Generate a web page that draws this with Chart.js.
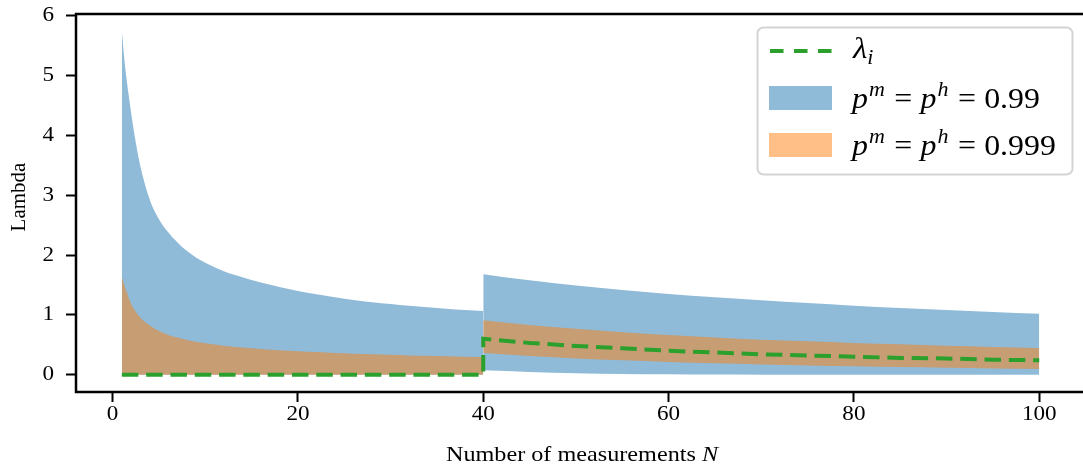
<!DOCTYPE html>
<html>
<head>
<meta charset="utf-8">
<script src="https://cdn.jsdelivr.net/npm/chart.js@4.4.0/dist/chart.umd.min.js"></script>
<style>
  html, body { margin: 0; padding: 0; background: #fff; overflow: hidden; }
  #wrap { width: 1090px; height: 468px; }
</style>
</head>
<body>
<div id="wrap"><canvas id="myChart" width="1090" height="468"></canvas></div>
<script>
// --- data ---
// first part, before the switch at N = 40 (lambda = 0)
var nSeg1 = [1, 1.25, 1.5, 2, 2.5, 3, 4, 5, 6, 7, 8, 9, 10, 12, 14, 16, 18, 20, 22, 24, 26, 28, 30, 32, 34, 36, 38, 40];
var blueUpperSeg1 = [5.75, 5.30, 4.95, 4.38, 3.88, 3.48, 2.93, 2.60, 2.38, 2.21, 2.07, 1.96, 1.87, 1.73, 1.63, 1.54, 1.465, 1.40, 1.345, 1.295, 1.25, 1.21, 1.18, 1.15, 1.125, 1.10, 1.08, 1.065];
var orangeUpperSeg1 = [1.64, 1.50, 1.39, 1.18, 1.05, 0.95, 0.82, 0.73, 0.665, 0.62, 0.58, 0.55, 0.525, 0.485, 0.455, 0.43, 0.41, 0.392, 0.377, 0.363, 0.351, 0.340, 0.331, 0.322, 0.314, 0.307, 0.301, 0.295];
var lowerSeg1 = [0, 0, 0, 0, 0, 0, 0, 0, 0, 0, 0, 0, 0, 0, 0, 0, 0, 0, 0, 0, 0, 0, 0, 0, 0, 0, 0, 0];

// second part, N = 40 .. 100
var nSeg2 = [40, 45, 50, 55, 60, 65, 70, 75, 80, 85, 90, 95, 100];
var blueUpperSeg2 = [1.68, 1.577, 1.49, 1.416, 1.35, 1.293, 1.242, 1.196, 1.154, 1.116, 1.081, 1.049, 1.02];
var blueLowerSeg2 = [0.072, 0.045, 0.025, 0.013, 0.006, 0.002, 0, 0, 0, 0, 0, 0, 0];
var orangeUpperSeg2 = [0.91, 0.83, 0.766, 0.71, 0.663, 0.622, 0.585, 0.558, 0.53, 0.507, 0.484, 0.464, 0.446];
var orangeLowerSeg2 = [0.36, 0.311, 0.271, 0.239, 0.212, 0.19, 0.17, 0.154, 0.139, 0.126, 0.114, 0.104, 0.095];

// lambda_i (dashed green)
var nLambda = [1, 40, 40, 45, 50, 55, 60, 65, 70, 75, 80, 85, 90, 95, 100];
var lambdaVals = [0, 0, 0.60, 0.53, 0.48, 0.44, 0.40, 0.37, 0.34, 0.32, 0.30, 0.28, 0.27, 0.25, 0.24];

var xTicks = [0, 20, 40, 60, 80, 100];
var yTicks = [0, 1, 2, 3, 4, 5, 6];

var blue = 'rgba(31,119,180,0.5)';
var orange = 'rgba(255,127,14,0.5)';
var green = '#2ca02c';
var serif = "'Liberation Serif', 'DejaVu Serif', serif";
var SX = 1.1; // text in the picture is a bit wider than tall

function pts(xs, ys) {
    var out = [];
    for (var i = 0; i < xs.length; i++) out.push({x: xs[i], y: ys[i]});
    return out;
}

function band(xs, ys, fillTo, color, order) {
    return {
        data: pts(xs, ys),
        fill: fillTo === null ? false : fillTo,
        backgroundColor: color,
        borderWidth: 0,
        pointRadius: 0,
        cubicInterpolationMode: 'monotone',
        order: order
    };
}

// wide text: draw at x with horizontal stretch
function wideText(ctx, txt, x, y, align) {
    ctx.save();
    ctx.scale(SX, 1);
    ctx.textAlign = align || 'left';
    ctx.fillText(txt, x / SX, y);
    ctx.restore();
}

function drawPieces(ctx, pieces, x, y) {
    for (var i = 0; i < pieces.length; i++) {
        var p = pieces[i];
        x += (p.gap || 0) * SX;
        ctx.font = (p.it ? 'italic ' : '') + p.size + 'px ' + serif;
        wideText(ctx, p.t, x, y + (p.dy || 0));
        x += ctx.measureText(p.t).width * SX;
    }
}

function pieceLine(val) {
    return [
        {t: 'p', it: true, size: 29},
        {t: 'm', it: true, size: 20, dy: -12, gap: 1},
        {t: '=', size: 29, gap: 8.5},
        {t: 'p', it: true, size: 29, gap: 7.5},
        {t: 'h', it: true, size: 20, dy: -12, gap: 1},
        {t: '=', size: 29, gap: 8.5},
        {t: val, size: 29, gap: 7.5}
    ];
}

var decor = {
    id: 'decor',
    afterDatasetsDraw: function (chart) {
        var ctx = chart.ctx, a = chart.chartArea;
        ctx.save();
        ctx.strokeStyle = '#000';
        ctx.lineWidth = 2.5;
        ctx.strokeRect(a.left, a.top, a.right - a.left, a.bottom - a.top);
        ctx.restore();
    },
    afterDraw: function (chart) {
        var ctx = chart.ctx;
        var xs = chart.scales.x, ys = chart.scales.y;
        ctx.save();
        ctx.fillStyle = '#000';
        ctx.textBaseline = 'alphabetic';

        // tick labels
        ctx.font = '21px ' + serif;
        xTicks.forEach(function (v) {
            wideText(ctx, String(v), xs.getPixelForValue(v), 420, 'center');
        });
        ctx.textBaseline = 'middle';
        yTicks.forEach(function (v) {
            wideText(ctx, String(v), 54, ys.getPixelForValue(v), 'right');
        });
        ctx.textBaseline = 'alphabetic';

        // x title
        ctx.font = '22px ' + serif;
        var t1 = 'Number of measurements ';
        var w1 = ctx.measureText(t1).width * SX;
        ctx.font = 'italic 22px ' + serif;
        var w2 = ctx.measureText('N').width * SX;
        var x0 = 582 - (w1 + w2) / 2;
        ctx.font = '22px ' + serif;
        wideText(ctx, t1, x0, 461);
        ctx.font = 'italic 22px ' + serif;
        wideText(ctx, 'N', x0 + w1, 461);

        // y title
        ctx.save();
        ctx.translate(19, 197);
        ctx.rotate(-Math.PI / 2);
        ctx.textAlign = 'center';
        ctx.textBaseline = 'middle';
        ctx.font = '21px ' + serif;
        ctx.fillText('Lambda', 0, 0);
        ctx.restore();

        // legend
        ctx.beginPath();
        ctx.roundRect(757.5, 27.5, 315, 147, 6);
        ctx.fillStyle = 'rgba(255,255,255,0.8)';
        ctx.fill();
        ctx.strokeStyle = '#d4d4d4';
        ctx.lineWidth = 2;
        ctx.stroke();

        ctx.beginPath();
        ctx.setLineDash([13.5, 10.5]);
        ctx.strokeStyle = green;
        ctx.lineWidth = 4;
        ctx.moveTo(770, 51);
        ctx.lineTo(832, 51);
        ctx.stroke();
        ctx.setLineDash([]);

        ctx.fillStyle = blue;
        ctx.fillRect(769, 86, 63, 24);
        ctx.fillStyle = orange;
        ctx.fillRect(769, 133, 63, 24);

        ctx.fillStyle = '#000';
        drawPieces(ctx, [
            {t: '\u03bb', it: true, size: 30},
            {t: 'i', it: true, size: 20, dy: 6}
        ], 853, 58);
        drawPieces(ctx, pieceLine('0.99'), 852, 108);
        drawPieces(ctx, pieceLine('0.999'), 852, 155);
        ctx.restore();
    }
};

var ctx = document.getElementById('myChart').getContext('2d');
var chart = new Chart(ctx, {
    type: 'line',
    data: {
        datasets: [
            band(nSeg1, blueUpperSeg1, 1, blue, 5),
            band(nSeg1, lowerSeg1, null, blue, 5),
            band(nSeg2, blueUpperSeg2, 3, blue, 5),
            band(nSeg2, blueLowerSeg2, null, blue, 5),
            band(nSeg1, orangeUpperSeg1, 5, orange, 3),
            band(nSeg1, lowerSeg1, null, orange, 3),
            band(nSeg2, orangeUpperSeg2, 7, orange, 3),
            band(nSeg2, orangeLowerSeg2, null, orange, 3),
            {
                label: 'lambda_i',
                data: pts(nLambda, lambdaVals),
                borderColor: green,
                borderWidth: 4,
                borderDash: [16.5, 7.8],
                borderCapStyle: 'butt',
                pointRadius: 0,
                fill: false,
                tension: 0,
                order: 0
            }
        ]
    },
    options: {
        responsive: false,
        animation: false,
        devicePixelRatio: 1,
        layout: { padding: { left: 0, top: 14, right: 4.9, bottom: 0 } },
        plugins: {
            legend: { display: false },
            tooltip: { enabled: false },
            filler: { propagate: false }
        },
        scales: {
            x: {
                type: 'linear',
                min: -3.95,
                max: 104.95,
                afterBuildTicks: function (s) { s.ticks = xTicks.map(function (v) { return {value: v}; }); },
                afterFit: function (s) { s.height = 76; s.paddingLeft = 0; s.paddingRight = 0; },
                grid: { drawOnChartArea: false, drawTicks: true, tickLength: 10, tickColor: '#000', tickWidth: 2 },
                border: { display: false },
                ticks: { display: false }
            },
            y: {
                type: 'linear',
                min: -0.29,
                max: 6.03,
                afterBuildTicks: function (s) { s.ticks = yTicks.map(function (v) { return {value: v}; }); },
                afterFit: function (s) { s.width = 76; s.paddingTop = 0; s.paddingBottom = 0; },
                grid: { drawOnChartArea: false, drawTicks: true, tickLength: 10, tickColor: '#000', tickWidth: 2 },
                border: { display: false },
                ticks: { display: false }
            }
        }
    },
    plugins: [decor]
});
</script>
</body>
</html>
